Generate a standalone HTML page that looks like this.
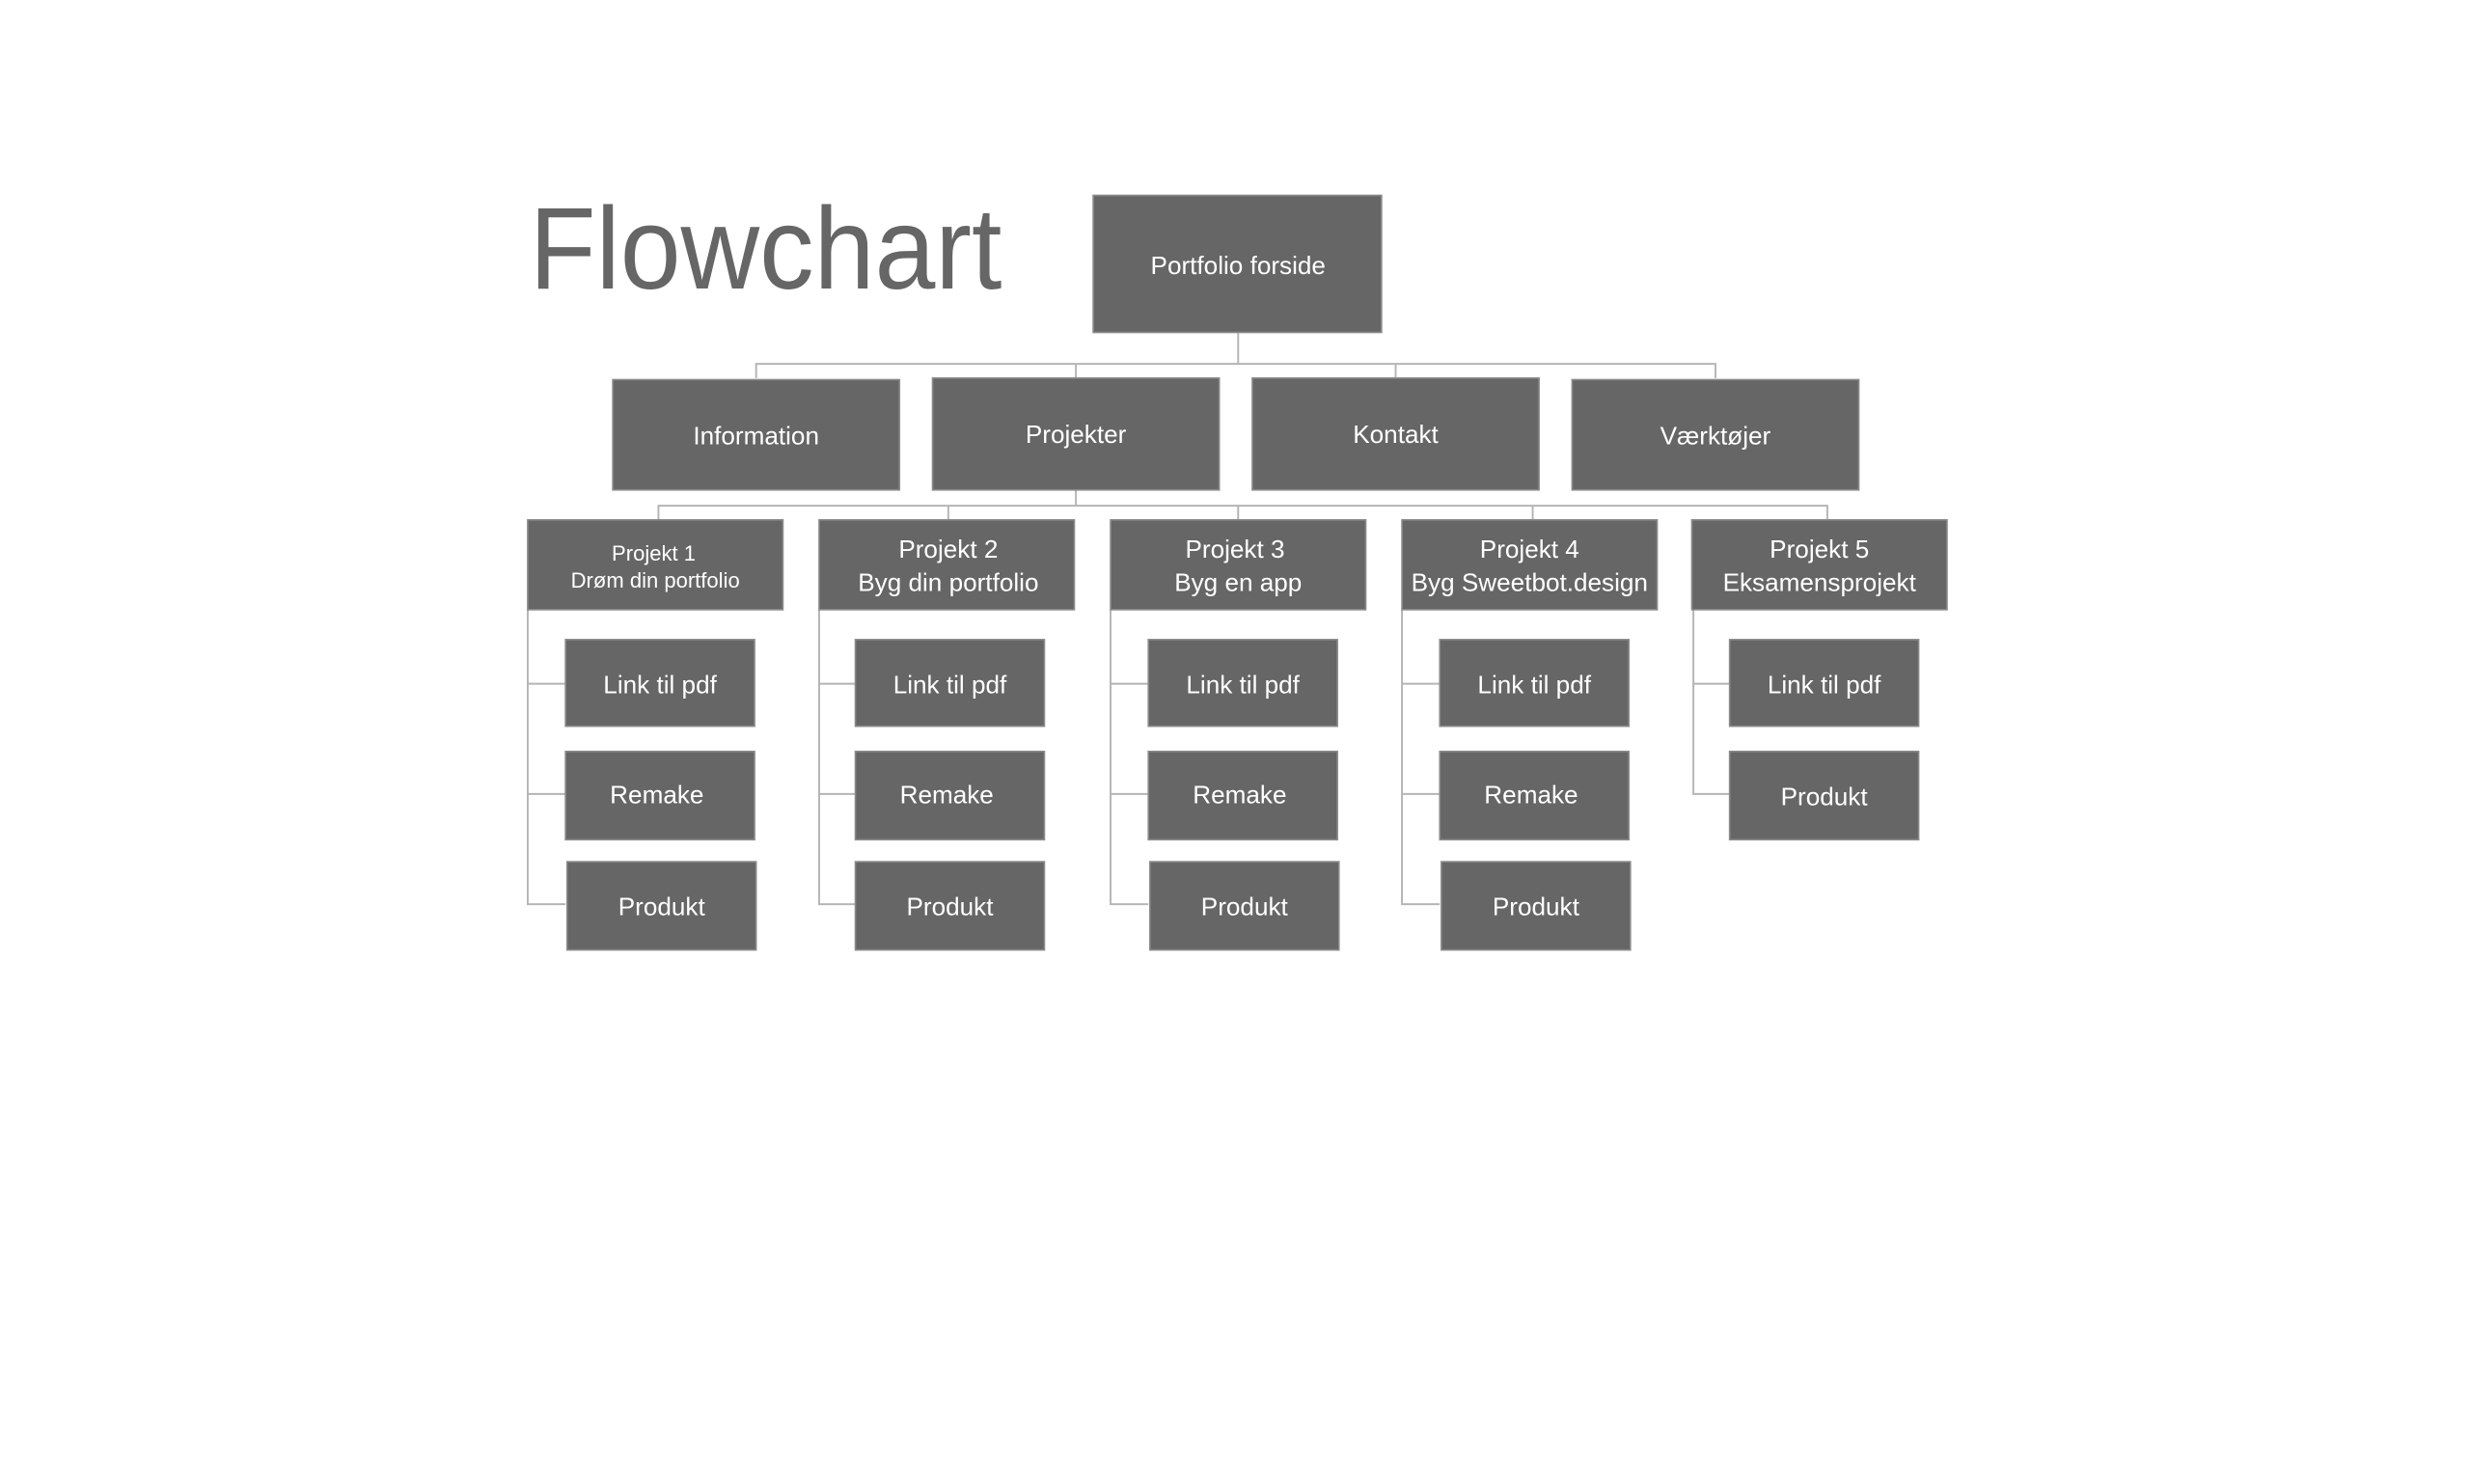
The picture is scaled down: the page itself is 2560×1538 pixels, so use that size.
<!DOCTYPE html>
<html><head><meta charset="utf-8"><style>
html,body{margin:0;padding:0;background:#fff;}
svg{display:block;}
text{font-family:"Liberation Sans",Arial,sans-serif;fill:#fff;text-anchor:middle;}
.b{fill:#666;stroke:#8a8a8a;stroke-width:1;}
.l{stroke:#b5b5b5;stroke-width:1.2;fill:none;}
</style></head><body>
<svg width="2560" height="1538" viewBox="0 0 1568 942" xmlns="http://www.w3.org/2000/svg">
<text x="336" y="183" textLength="300" lengthAdjust="spacingAndGlyphs" style="font-size:74px;fill:#666;text-anchor:start">Flowchart</text>

<!-- connectors -->
<path class="l" d="M786 211V231M480 240V231H1089V240M683 231V240M886 231V240"/>
<path class="l" d="M683 311V321M418 330V321H1160V330M602 321V330M786 321V330M973 321V330"/>
<path class="l" d="M335 387V574H359M335 434H359M335 504H359"/>
<path class="l" d="M520 387V574H543M520 434H543M520 504H543"/>
<path class="l" d="M705 387V574H729M705 434H729M705 504H729"/>
<path class="l" d="M890 387V574H914M890 434H914M890 504H914"/>
<path class="l" d="M1075 387V504H1098M1075 434H1098"/>

<!-- root -->
<rect class="b" x="694" y="124" width="183" height="87"/>
<text x="786" y="174" font-size="16">Portfolio forside</text>

<!-- level 2 -->
<rect class="b" x="389" y="241" width="182" height="70"/><text x="480" y="282" font-size="16">Information</text>
<rect class="b" x="592" y="240" width="182" height="71"/><text x="683" y="281" font-size="16">Projekter</text>
<rect class="b" x="795" y="240" width="182" height="71"/><text x="886" y="281" font-size="16">Kontakt</text>
<rect class="b" x="998" y="241" width="182" height="70"/><text x="1089" y="282" font-size="16">Værktøjer</text>

<!-- level 3 -->
<rect class="b" x="335" y="330" width="162" height="57"/>
<text x="415" y="356" font-size="13.5">Projekt 1</text><text x="416" y="373" font-size="13.5">Drøm din portfolio</text>
<rect class="b" x="520" y="330" width="162" height="57"/>
<text x="602" y="354" font-size="16">Projekt 2</text><text x="602" y="375" font-size="16">Byg din portfolio</text>
<rect class="b" x="705" y="330" width="162" height="57"/>
<text x="784" y="354" font-size="16">Projekt 3</text><text x="786" y="375" font-size="16">Byg en app</text>
<rect class="b" x="890" y="330" width="162" height="57"/>
<text x="971" y="354" font-size="16">Projekt 4</text><text x="971" y="375" font-size="16">Byg Sweetbot.design</text>
<rect class="b" x="1074" y="330" width="162" height="57"/>
<text x="1155" y="354" font-size="16">Projekt 5</text><text x="1155" y="375" font-size="16">Eksamensprojekt</text>

<!-- children -->
<g font-size="16">
<rect class="b" x="359" y="406" width="120" height="55"/><text x="419" y="440">Link til pdf</text>
<rect class="b" x="359" y="477" width="120" height="56"/><text x="417" y="510">Remake</text>
<rect class="b" x="360" y="547" width="120" height="56"/><text x="420" y="581">Produkt</text>

<rect class="b" x="543" y="406" width="120" height="55"/><text x="603" y="440">Link til pdf</text>
<rect class="b" x="543" y="477" width="120" height="56"/><text x="601" y="510">Remake</text>
<rect class="b" x="543" y="547" width="120" height="56"/><text x="603" y="581">Produkt</text>

<rect class="b" x="729" y="406" width="120" height="55"/><text x="789" y="440">Link til pdf</text>
<rect class="b" x="729" y="477" width="120" height="56"/><text x="787" y="510">Remake</text>
<rect class="b" x="730" y="547" width="120" height="56"/><text x="790" y="581">Produkt</text>

<rect class="b" x="914" y="406" width="120" height="55"/><text x="974" y="440">Link til pdf</text>
<rect class="b" x="914" y="477" width="120" height="56"/><text x="972" y="510">Remake</text>
<rect class="b" x="915" y="547" width="120" height="56"/><text x="975" y="581">Produkt</text>

<rect class="b" x="1098" y="406" width="120" height="55"/><text x="1158" y="440">Link til pdf</text>
<rect class="b" x="1098" y="477" width="120" height="56"/><text x="1158" y="511">Produkt</text>
</g>
</svg>
</body></html>
